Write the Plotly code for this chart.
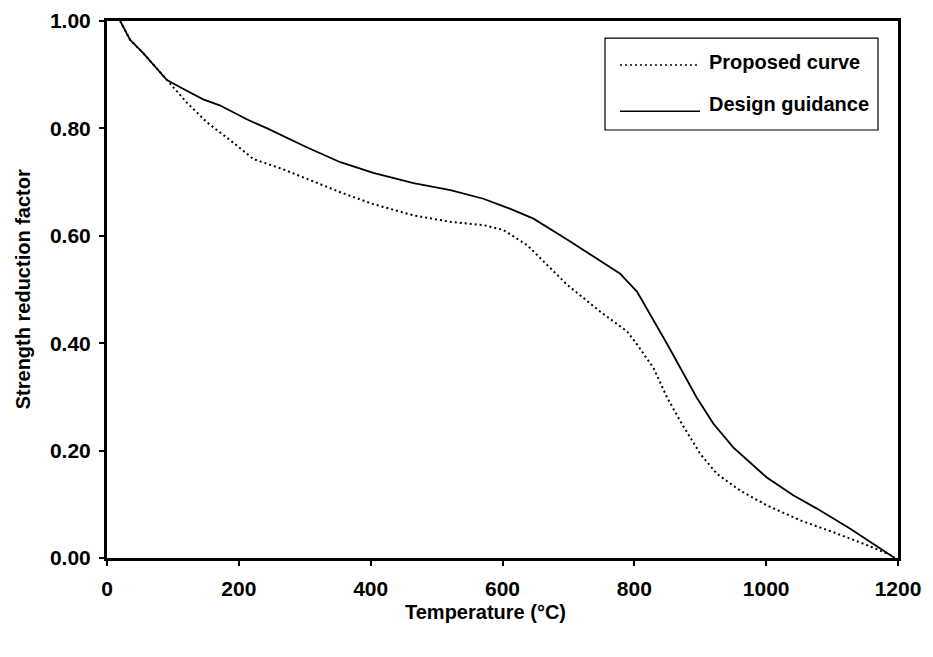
import plotly.graph_objects as go

# Design guidance (solid)
design_T = [20, 35, 55, 76, 91, 121, 146, 171, 212, 243, 303, 354, 404, 465, 521, 571,
            612, 647, 698, 778, 804, 850, 895, 920, 950, 1001, 1041, 1077, 1127, 1195]
design_k = [1.00, 0.965, 0.94, 0.91, 0.89, 0.87, 0.854, 0.843, 0.817, 0.80, 0.765, 0.737,
            0.717, 0.698, 0.685, 0.669, 0.65, 0.632, 0.593, 0.53, 0.496, 0.398, 0.298,
            0.25, 0.206, 0.15, 0.117, 0.092, 0.055, 0.0]

# Proposed curve (dotted)
proposed_T = [20, 35, 55, 76, 91, 121, 152, 191, 222, 267, 303, 354, 404, 465, 521, 571,
              601, 637, 698, 748, 789, 804, 829, 850, 872, 900, 925, 960, 1001, 1052,
              1102, 1153, 1188, 1195]
proposed_k = [1.00, 0.965, 0.94, 0.91, 0.89, 0.848, 0.811, 0.774, 0.743, 0.724, 0.706,
              0.681, 0.659, 0.638, 0.626, 0.62, 0.611, 0.583, 0.509, 0.459, 0.422, 0.398,
              0.354, 0.298, 0.25, 0.194, 0.157, 0.126, 0.098, 0.07, 0.048, 0.024, 0.006, 0.0]

x_ticks = [0, 200, 400, 600, 800, 1000, 1200]
y_ticks = [0.0, 0.2, 0.4, 0.6, 0.8, 1.0]
y_ticktext = ["0.00", "0.20", "0.40", "0.60", "0.80", "1.00"]

legend_names = ["Proposed curve", "Design guidance"]

FONT = "Liberation Sans, Arial, sans-serif"

fig = go.Figure()
fig.add_trace(go.Scatter(x=proposed_T, y=proposed_k, mode="lines", name=legend_names[0],
                         line=dict(color="black", width=2, dash="2px,3px"), showlegend=False,
                         cliponaxis=False))
fig.add_trace(go.Scatter(x=design_T, y=design_k, mode="lines", name=legend_names[1],
                         line=dict(color="black", width=1.8), showlegend=False,
                         cliponaxis=False))

axis_common = dict(showline=True, linewidth=3, linecolor="black", mirror=True,
                   showgrid=False, zeroline=False, ticks="outside", ticklen=5,
                   tickwidth=1.5, tickcolor="black", automargin=False,
                   ticklabeloverflow="allow",
                   tickfont=dict(family=FONT, size=21, color="black", weight="bold"))

fig.update_xaxes(range=[0, 1200], tickvals=x_ticks, ticklabelstandoff=5, **axis_common)
fig.update_yaxes(range=[0, 1.0], tickvals=y_ticks, ticktext=y_ticktext,
                 ticklabelstandoff=4, **axis_common)

# manual legend box (paper coordinates)
shapes = [
    dict(type="rect", xref="paper", yref="paper", x0=0.6296, x1=0.9747, y0=0.797, y1=0.968,
         line=dict(color="black", width=1.2), fillcolor="white", layer="above"),
    dict(type="line", xref="paper", yref="paper", x0=0.6485, x1=0.7497, y0=0.918, y1=0.918,
         line=dict(color="black", width=1.5, dash="2px,3px")),
    dict(type="line", xref="paper", yref="paper", x0=0.6485, x1=0.7497, y0=0.832, y1=0.832,
         line=dict(color="black", width=1.5)),
]
annotations = [
    dict(text=legend_names[0], xref="paper", yref="paper", x=0.7585, y=0.923,
         xanchor="left", yanchor="middle", showarrow=False,
         font=dict(family=FONT, size=20, color="black", weight="bold")),
    dict(text=legend_names[1], xref="paper", yref="paper", x=0.7585, y=0.845,
         xanchor="left", yanchor="middle", showarrow=False,
         font=dict(family=FONT, size=20, color="black", weight="bold")),
    dict(text="Temperature (°C)", xref="paper", yref="paper", x=0.478, y=-0.10,
         xanchor="center", yanchor="middle", showarrow=False,
         font=dict(family=FONT, size=20, color="black", weight="bold")),
    dict(text="Strength reduction factor", xref="paper", yref="paper", x=-0.1065, y=0.5,
         xanchor="center", yanchor="middle", showarrow=False, textangle=-90,
         font=dict(family=FONT, size=20, color="black", weight="bold")),
]

# the page body adds an 8px offset, so the figure is sized to compensate
fig.update_layout(
    width=925, height=649,
    margin=dict(l=99, r=35, t=13, b=99),
    paper_bgcolor="white", plot_bgcolor="white",
    shapes=shapes, annotations=annotations,
)

fig.write_html("out.html")
